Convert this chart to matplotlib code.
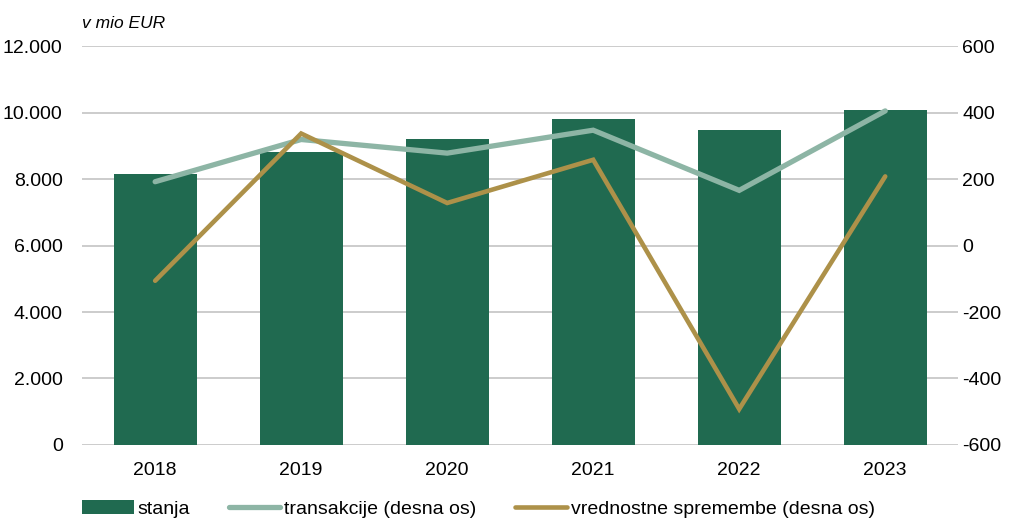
import matplotlib.pyplot as plt
from matplotlib.ticker import FuncFormatter

plt.rcParams['font.family'] = ['Liberation Sans', 'DejaVu Sans']
plt.rcParams['axes.unicode_minus'] = False

# data
years = ['2018', '2019', '2020', '2021', '2022', '2023']
stanja = [8150, 8800, 9210, 9800, 9480, 10090]
transakcije = [192, 319, 278, 347, 166, 405]
vrednostne = [-106, 337, 128, 258, -492, 208]

bar_color = '#206a50'
trans_color = '#8db5a5'
vred_color = '#ad9149'
grid_color = '#c8c8c8'

fig = plt.figure(figsize=(10.14, 5.18), dpi=100)
ax = fig.add_axes([0.081, 0.141, 0.864, 0.770])
ax2 = ax.twinx()

x = range(len(years))
ax.bar(x, stanja, width=0.57, color=bar_color, label='stanja', zorder=2)
ax2.plot(x, transakcije, color=trans_color, linewidth=3.8, solid_capstyle='round',
         solid_joinstyle='miter', label='transakcije (desna os)')
ax2.plot(x, vrednostne, color=vred_color, linewidth=3.3, solid_capstyle='round',
         solid_joinstyle='miter', label='vrednostne spremembe (desna os)')

ax.set_xlim(-0.5, len(years) - 0.5)
ax.set_ylim(0, 12000)
ax.set_yticks(range(0, 12001, 2000))
ax.yaxis.set_major_formatter(FuncFormatter(lambda v, p: f'{int(v):,}'.replace(',', '.')))
ax2.set_ylim(-600, 600)
ax2.set_yticks(range(-600, 601, 200))

ax.set_xticks(list(x))
ax.set_xticklabels(years)
ax.grid(axis='y', color=grid_color, linewidth=1.3)
ax.set_axisbelow(True)

for a in (ax, ax2):
    for s in a.spines.values():
        s.set_visible(False)
    a.tick_params(length=0, labelsize=14, colors='black')
ax.tick_params(axis='y', pad=14)
ax.tick_params(axis='x', pad=12)
ax2.tick_params(axis='y', pad=3)

fig.text(0.081, 0.955, 'v mio EUR', fontsize=12.5, style='italic', va='center', ha='left')

handles = ax.get_legend_handles_labels()[0] + ax2.get_legend_handles_labels()[0]
labels = ax.get_legend_handles_labels()[1] + ax2.get_legend_handles_labels()[1]
fig.legend(handles, labels, loc='center left', bbox_to_anchor=(0.081, 0.017), ncol=3,
           frameon=False, fontsize=14, handlelength=2.65, handletextpad=0.2,
           columnspacing=2.0, borderpad=0, borderaxespad=0)

fig.savefig('out.png', dpi=100)
